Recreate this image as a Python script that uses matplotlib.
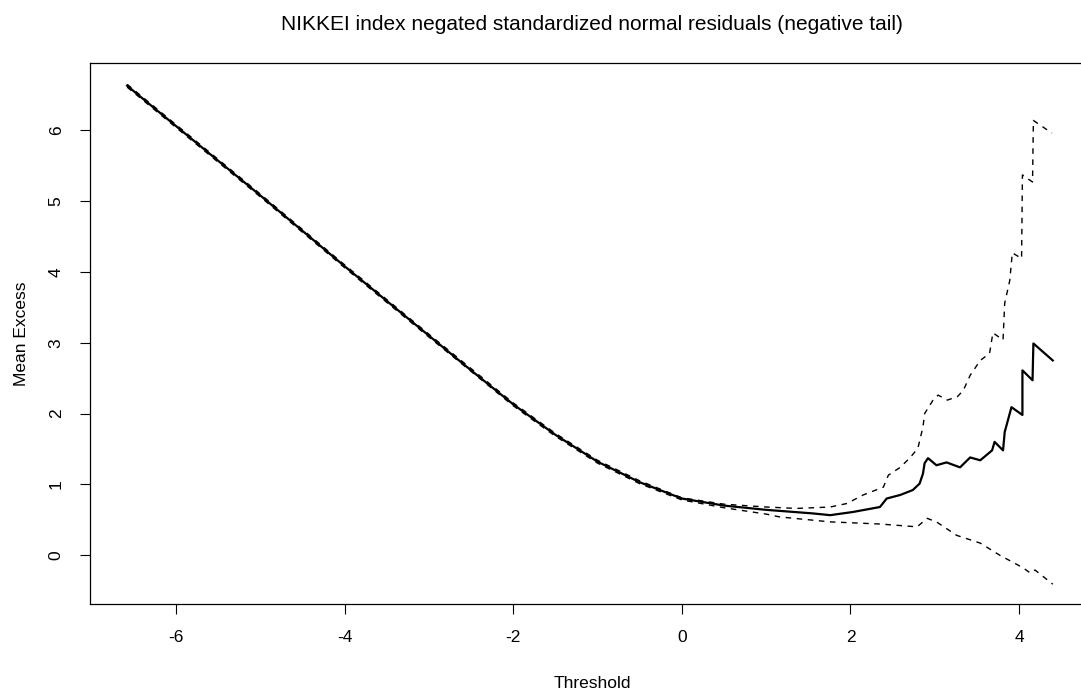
import matplotlib.pyplot as plt

plt.rcParams['font.family'] = ['Liberation Sans', 'DejaVu Sans']
plt.rcParams['axes.unicode_minus'] = False

# mean excess estimate (solid line)
thr_mid = [-6.58, -6.0, -5.5, -5.0, -4.5, -4.0, -3.5, -3.0, -2.5, -2.0, -1.5,
           -1.0, -0.5, 0.0, 0.5, 1.0, 1.55, 1.76, 2.03, 2.35, 2.43, 2.59, 2.74,
           2.82, 2.86, 2.88, 2.92, 3.02, 3.14, 3.30, 3.42, 3.54, 3.68, 3.71,
           3.81, 3.83, 3.91, 4.04, 4.04, 4.16, 4.17, 4.40]
me_mid = [6.63, 6.06, 5.57, 5.08, 4.58, 4.08, 3.59, 3.10, 2.61, 2.13, 1.70,
          1.32, 1.03, 0.80, 0.70, 0.64, 0.59, 0.565, 0.61, 0.68, 0.80, 0.85, 0.92,
          1.01, 1.15, 1.30, 1.37, 1.27, 1.31, 1.24, 1.38, 1.34, 1.48, 1.60,
          1.48, 1.74, 2.09, 1.98, 2.61, 2.47, 2.99, 2.75]

# upper confidence band (dashed)
thr_up = [-6.58, -6.0, -5.0, -4.0, -3.0, -2.0, -1.5, -1.0, -0.5, 0.0, 0.5,
          1.0, 1.36, 1.76, 1.96, 2.15, 2.39, 2.45, 2.59, 2.71, 2.80, 2.86,
          2.88, 2.98, 3.04, 3.15, 3.27, 3.34, 3.42, 3.54, 3.65, 3.69, 3.81,
          3.83, 3.89, 3.92, 4.03, 4.04, 4.16, 4.17, 4.39]
me_up = [6.65, 6.08, 5.10, 4.10, 3.12, 2.15, 1.72, 1.34, 1.05, 0.81, 0.72,
         0.68, 0.66, 0.68, 0.73, 0.85, 0.96, 1.13, 1.24, 1.38, 1.51, 1.81,
         2.00, 2.19, 2.26, 2.19, 2.24, 2.33, 2.54, 2.75, 2.85, 3.14, 3.04,
         3.56, 3.88, 4.27, 4.19, 5.37, 5.27, 6.14, 5.96]

# lower confidence band (dashed)
thr_lo = [-6.58, -6.0, -5.0, -4.0, -3.0, -2.0, -1.5, -1.0, -0.5, 0.0, 0.5,
          1.0, 1.16, 1.76, 2.35, 2.79, 2.91, 3.02, 3.26, 3.54, 3.77, 4.05,
          4.13, 4.19, 4.40]
me_lo = [6.61, 6.04, 5.06, 4.06, 3.08, 2.11, 1.68, 1.30, 1.01, 0.78, 0.67,
         0.58, 0.54, 0.47, 0.44, 0.40, 0.52, 0.47, 0.28, 0.17, 0.0, -0.18,
         -0.25, -0.21, -0.41]

fig = plt.figure(figsize=(10.81, 6.93), dpi=100)
# plot box runs past the right edge of the image, as in the original
ax = fig.add_axes([0.0833, 0.1284, 0.9288, 0.7806])

ax.plot(thr_mid, me_mid, color='black', lw=1.6)
ax.plot(thr_up, me_up, color='black', lw=1.0, ls=(0, (4, 4)))
ax.plot(thr_lo, me_lo, color='black', lw=1.0, ls=(0, (4, 4)))

ax.set_xlim(-7.02, 4.89)
ax.set_ylim(-0.69, 6.95)
ax.set_xticks([-6, -4, -2, 0, 2, 4])
ax.set_yticks([0, 1, 2, 3, 4, 5, 6])
ax.tick_params(direction='out', length=7, width=0.8, labelsize=12.5, pad=12)
for lab in ax.get_yticklabels():
    lab.set_rotation(90)
    lab.set_va('center')
for sp in ax.spines.values():
    sp.set_linewidth(0.9)

ax.set_xlabel('Threshold', fontsize=12.5, labelpad=22)
ax.set_ylabel('Mean Excess', fontsize=12.5, labelpad=14)
ax.set_title('NIKKEI index negated standardized normal residuals (negative tail)',
             fontsize=15, pad=24)

fig.savefig('out.png', dpi=100)
